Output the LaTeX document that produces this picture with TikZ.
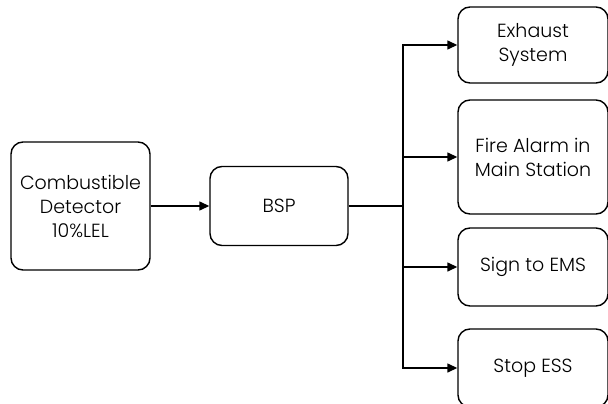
\documentclass[tikz,border=0pt]{standalone}
\usepackage{fontspec}
\setmainfont{Poppins}[UprightFont=* Light]
\usetikzlibrary{arrows.meta}
\begin{document}
\begin{tikzpicture}[x=1pt,y=-1pt,
  box/.style={draw, line width=1.4pt, rounded corners=12pt, align=center, inner sep=0pt,
    font=\fontsize{19}{24}\selectfont},
  conn/.style={line width=1.4pt, -{Triangle[length=10pt,width=9pt]}},
  wire/.style={line width=1.4pt}]
\useasboundingbox (0,0) rectangle (608,404);
\node[box, minimum width=139pt, minimum height=128pt] (det) at (80.5,206) {Combustible\\Detector\\10\%LEL};
\node[box, minimum width=138pt, minimum height=79pt] (bsp) at (279,206) {BSP};
\node[box, minimum width=150pt, minimum height=76pt] (exh) at (533,45) {Exhaust\\System};
\node[box, minimum width=150pt, minimum height=114pt] (fire) at (533,157) {Fire Alarm in\\Main Station};
\node[box, minimum width=150pt, minimum height=78pt] (ems) at (533,267) {Sign to EMS};
\node[box, minimum width=150pt, minimum height=78pt] (ess) at (533,368) {Stop ESS};
\coordinate (j) at (403,206);
\draw[conn] (det.east) -- (bsp.west);
\draw[wire] (bsp.east) -- (j);
\draw[conn] (j) |- (exh.west);
\draw[conn] (j) |- (fire.west);
\draw[conn] (j) |- (ems.west);
\draw[conn] (j) |- (ess.west);
\end{tikzpicture}
\end{document}
